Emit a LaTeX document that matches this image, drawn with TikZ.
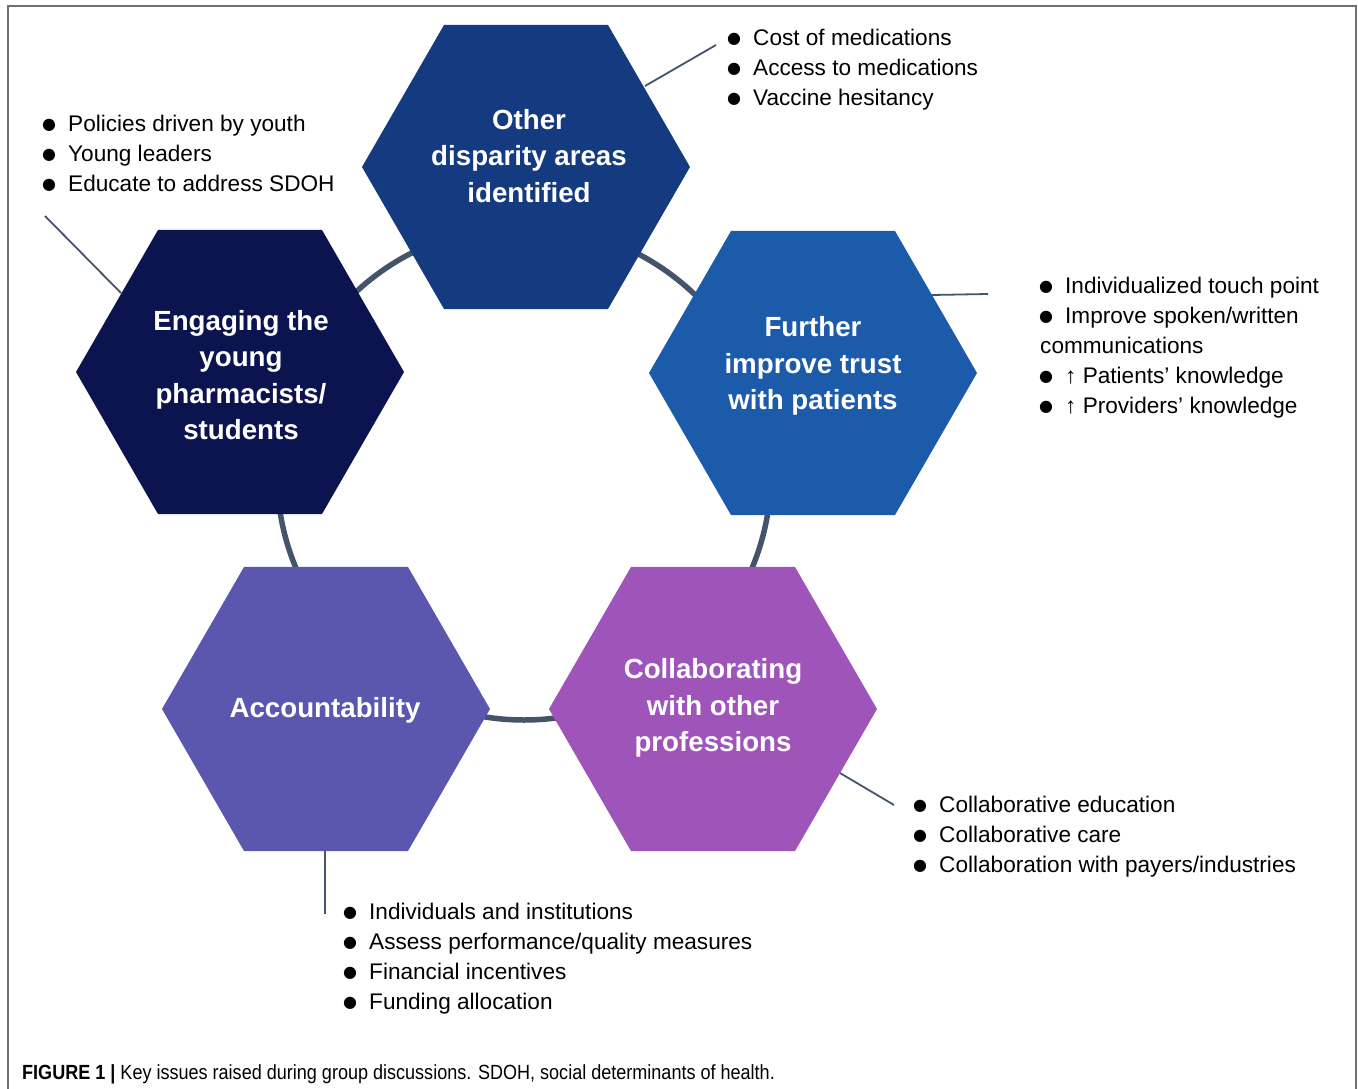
\documentclass[tikz,border=0pt]{standalone}
\usepackage{fontspec}
\setmainfont{Liberation Sans}
\newfontfamily\capfont[FakeStretch=0.88]{Liberation Sans}
\newfontfamily\dotfont{DejaVu Sans}
\usetikzlibrary{shapes.geometric}

\definecolor{ringcol}{HTML}{44546A}
\definecolor{hexOther}{HTML}{143A7F}
\definecolor{hexYoung}{HTML}{0C1450}
\definecolor{hexTrust}{HTML}{1B5BAA}
\definecolor{hexAcc}{HTML}{5C57AE}
\definecolor{hexCollab}{HTML}{9E54B8}
\definecolor{framecol}{HTML}{707070}

\tikzset{
  hexbox/.style={regular polygon, regular polygon sides=6, minimum size=328pt,
    inner sep=0pt, outer sep=0pt, fill=#1, draw=none},
  hexlabel/.style={text=white, font=\fontsize{27.7}{36.5}\selectfont\bfseries,
    align=center, inner sep=0pt},
  bullets/.style={font=\fontsize{22.6}{30}\selectfont, align=left,
    anchor=north west, inner sep=0pt, text=black},
  leader/.style={draw=ringcol, line width=1.8pt},
  ring/.style={draw=ringcol, line width=5.5pt},
}
% list entry: a round black dot followed by the text
\newcommand{\bitem}[1]{\makebox[25pt][l]{\hspace*{-1pt}\raisebox{2pt}{\dotfont\fontsize{16}{16}\selectfont ●}}#1}

\begin{document}
\begin{tikzpicture}[x=1pt,y=-1pt]
  \useasboundingbox (0,0) rectangle (1358,1089);
  \fill[white] (0,0) rectangle (1358,1089);
  % outer frame (open at the bottom)
  \draw[framecol, line width=1.6pt] (8,1089) -- (8,6) -- (1356,6) -- (1356,1089);

  % ring joining the five issues
  \draw[ring] (524,473) circle (247);

  % hexagons
  \node[hexbox=hexOther]  (hexO) at (526,167) {};
  \node[hexbox=hexYoung]  (hexY) at (240,372) {};
  \node[hexbox=hexTrust]  (hexT) at (813,373) {};
  \node[hexbox=hexAcc]    (hexA) at (326,709) {};
  \node[hexbox=hexCollab] (hexC) at (713,709) {};

  % hexagon titles
  \node[hexlabel] (labO) at (529,156) {Other\\disparity areas\\identified};
  \node[hexlabel] (labY) at (241,375) {Engaging the\\young\\pharmacists/\\students};
  \node[hexlabel] (labT) at (813,366) {Further\\improve trust\\with patients};
  \node[hexlabel] (labA) at (325,710) {Accountability};
  \node[hexlabel] (labC) at (713,708) {Collaborating\\with other\\professions};

  % leader lines from each hexagon to its list
  \coordinate (lOa) at (645,86);   \coordinate (lOb) at (716,45);
  \coordinate (lYa) at (121,293);  \coordinate (lYb) at (45,216);
  \coordinate (lTa) at (932,295);  \coordinate (lTb) at (988,294);
  \coordinate (lAa) at (325,851);  \coordinate (lAb) at (325,914);
  \coordinate (lCa) at (840,773);  \coordinate (lCb) at (894,805);
  \draw[leader] (lOa) -- (lOb);
  \draw[leader] (lYa) -- (lYb);
  \draw[leader] (lTa) -- (lTb);
  \draw[leader] (lAa) -- (lAb);
  \draw[leader] (lCa) -- (lCb);

  % bullet lists
  \node[bullets] (listY) at (43,115) {\bitem{Policies driven by youth}\\
    \bitem{Young leaders}\\ \bitem{Educate to address SDOH}};
  \node[bullets] (listO) at (728,29) {\bitem{Cost of medications}\\
    \bitem{Access to medications}\\ \bitem{Vaccine hesitancy}};
  \node[bullets] (listT) at (1040,277) {\bitem{Individualized touch point}\\
    \bitem{Improve spoken/written}\\ communications\\
    \bitem{↑ Patients’ knowledge}\\ \bitem{↑ Providers’ knowledge}};
  \node[bullets] (listA) at (344,903) {\bitem{Individuals and institutions}\\
    \bitem{Assess performance/quality measures}\\
    \bitem{Financial incentives}\\ \bitem{Funding allocation}};
  \node[bullets] (listC) at (914,796) {\bitem{Collaborative education}\\
    \bitem{Collaborative care}\\ \bitem{Collaboration with payers/industries}};

  % caption
  \node[anchor=base west, inner sep=0pt, text=black,
        font=\capfont\fontsize{20.5}{23}\selectfont] (caption) at (22,1079)
    {\textbf{FIGURE 1 |} Key issues raised during group discussions. SDOH, social determinants of health.};
\end{tikzpicture}
\end{document}
